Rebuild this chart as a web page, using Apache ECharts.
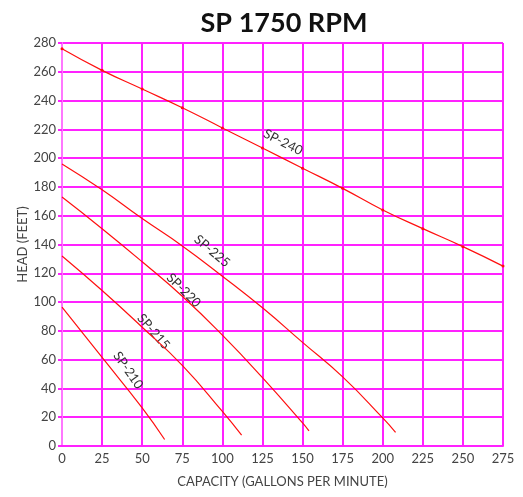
<!DOCTYPE html>
<html>
<head>
<meta charset="utf-8">
<script src="https://cdn.jsdelivr.net/npm/echarts@6/dist/echarts.min.js"></script>
<style>
  html, body { margin: 0; padding: 0; background: #fff; }
  #main { width: 523px; height: 497px; }
</style>
</head>
<body>
<div id="main"></div>
<script>
// pump curves (capacity gpm, head ft)
const sp240 = [[0, 276], [25, 261], [50, 248], [75, 235], [100, 221], [125, 207], [150, 193], [175, 179], [200, 164], [225, 151], [250, 138.5], [275, 125]]
const sp225 = [[0, 196], [25, 178], [50, 158], [75, 139], [100, 118], [125, 96], [150, 72], [175, 48], [200, 19.5], [208, 9.5]]
const sp220 = [[0, 173], [25, 151], [50, 128], [75, 104], [100, 77], [125, 47.5], [150, 16], [154, 10.5]]
const sp215 = [[0, 132], [25, 108], [50, 82.5], [75, 56], [100, 24], [112, 7.5]]
const sp210 = [[0, 96.5], [25, 61.5], [50, 26.5], [64, 4.5]]

const curveNames = ['SP-240', 'SP-225', 'SP-220', 'SP-215', 'SP-210']
const curveData = [sp240, sp225, sp220, sp215, sp210]
// where each curve label sits and how far it is turned (degrees, clockwise)
const labelAt = [[136, 207], [91, 132], [73, 105], [54, 76.5], [38, 50]]
const labelTurn = [27, 40, 45, 49, 55]

const xTicks = [0, 25, 50, 75, 100, 125, 150, 175, 200, 225, 250, 275]
const yTicks = [0, 20, 40, 60, 80, 100, 120, 140, 160, 180, 200, 220, 240, 260, 280]

const pink = '#ff22ff'

var myChart = echarts.init(document.getElementById('main'))

const series = curveData.map(function (d, i) {
  return {
    name: curveNames[i],
    type: 'line',
    data: d,
    smooth: true,
    symbol: i === 0 ? 'circle' : 'none',
    symbolSize: 3,
    showSymbol: i === 0,
    itemStyle: { color: '#ff1010' },
    lineStyle: { color: '#ff1010', width: 1.2 },
    silent: true
  }
})

const options = {
  animation: false,
  title: {
    text: 'SP 1750 RPM',
    left: 279,
    top: 5,
    textAlign: 'center',
    textStyle: { fontFamily: 'Lato', fontWeight: 'bold', fontSize: 27, color: '#111' }
  },
  grid: { left: 62, right: 20, top: 43, bottom: 51 },
  xAxis: {
    type: 'value',
    min: xTicks[0],
    max: xTicks[xTicks.length - 1],
    interval: 25,
    name: 'CAPACITY (GALLONS PER MINUTE)',
    nameLocation: 'middle',
    nameGap: 29,
    nameMoveOverlap: false,
    nameTextStyle: { fontFamily: 'Lato', fontSize: 13, color: '#444' },
    axisLine: { lineStyle: { color: pink, width: 2 } },
    axisTick: { show: false },
    axisLabel: { fontFamily: 'Lato', fontSize: 13, color: '#444', margin: 6, showMaxLabel: true },
    splitLine: { lineStyle: { color: pink, width: 2 } }
  },
  yAxis: {
    type: 'value',
    min: yTicks[0],
    max: yTicks[yTicks.length - 1],
    interval: 20,
    name: 'HEAD (FEET)',
    nameLocation: 'middle',
    nameGap: 33,
    nameMoveOverlap: false,
    nameTextStyle: { fontFamily: 'Lato', fontSize: 13, color: '#444' },
    axisLine: { show: true, lineStyle: { color: '#ff77ff', width: 2 } },
    axisTick: { show: true, length: 4, lineStyle: { color: pink, width: 2 } },
    axisLabel: { fontFamily: 'Lato', fontSize: 13, color: '#444', margin: 6 },
    splitLine: { lineStyle: { color: pink, width: 2 } }
  },
  series: series
}

myChart.setOption(options)

// curve names, placed along each curve
const labels = curveNames.map(function (n, i) {
  const p = myChart.convertToPixel({ gridIndex: 0 }, labelAt[i])
  return {
    type: 'text',
    x: p[0],
    y: p[1],
    rotation: -labelTurn[i] * Math.PI / 180,
    style: {
      text: n,
      fontFamily: 'Lato',
      fontSize: 13,
      fill: '#333',
      align: 'center',
      verticalAlign: 'bottom'
    }
  }
})
myChart.setOption({ graphic: labels })
</script>
</body>
</html>
